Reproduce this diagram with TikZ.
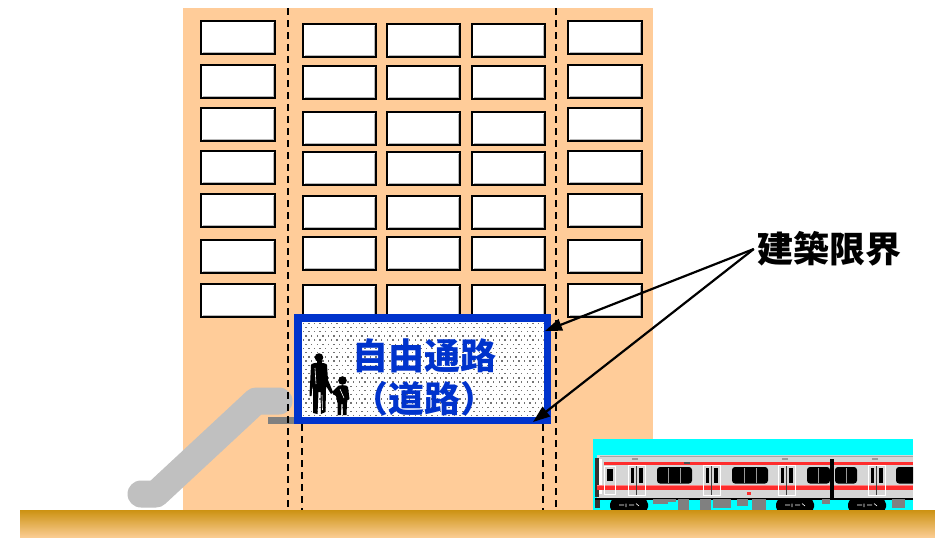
\documentclass[tikz,border=0pt]{standalone}
\usepackage{fontspec}
\newfontfamily\jpfont{Noto Sans CJK JP}
\usetikzlibrary{arrows.meta}

\definecolor{wall}{RGB}{255,204,153}
\definecolor{passblue}{RGB}{0,51,204}
\definecolor{escgray}{RGB}{192,192,192}
\definecolor{slabgray}{RGB}{128,128,128}
\definecolor{groundtop}{RGB}{204,146,18}
\definecolor{groundbot}{RGB}{252,206,150}
\definecolor{sky}{RGB}{0,255,255}
\definecolor{carbody}{RGB}{214,214,214}
\definecolor{stripe}{RGB}{255,45,45}
\definecolor{dotgray}{RGB}{115,115,115}

\tikzset{
  gauge/.style={draw=black, line width=2pt, dash pattern=on 7pt off 5pt},
  passbox/.style={draw=passblue, line width=7.5pt, inner sep=0pt,
    minimum width=249.5pt, minimum height=102.5pt},
  passtext/.style={text=passblue, inner sep=0pt,
    font=\jpfont\bfseries\fontsize{36}{36}\selectfont},
  tagtext/.style={text=black, inner sep=3pt,
    font=\jpfont\bfseries\fontsize{36}{36}\selectfont},
  callout/.style={draw=black, line width=2.2pt,
    -{Triangle[length=17pt,width=12pt]}},
  figure/.style={fill=black},
}

% one office window: white pane, grey inner shadow, black frame
\newcommand\bwin[3]{%
  \fill[white] (#1,#2) rectangle ++(#3,33);
  \draw[gray!55, line width=1pt] (#1+#3-1.5,#2+2) -- (#1+#3-1.5,#2+31.5) -- (#1+2,#2+31.5);
  \draw[black, line width=1.6pt] (#1,#2) rectangle ++(#3,33);
}

\begin{document}
\begin{tikzpicture}[x=1pt,y=-1pt]
\useasboundingbox (0,0) rectangle (935,538);
\fill[white] (0,0) rectangle (935,538);

% building
\fill[wall] (183,8) rectangle (653,510);

% windows
\foreach \y in {21,65,108,151,194,240,284} {
  \bwin{201}{\y}{74}
  \bwin{568}{\y}{74}
}
\foreach \y in {24,66,112,152,196,237,285} {
  \foreach \x in {303,387,472} { \bwin{\x}{\y}{73} }
}

% escalator and landing
\draw[escgray, line width=27pt, line cap=round, line join=round]
  (141,494) -- (156,494) -- (256,401) -- (279,401);
\fill[slabgray] (268,417) rectangle (296,424);

% clearance lines
\draw[gauge] (288,8) -- (288,510);
\draw[gauge] (556,8) -- (556,510);
\draw[gauge] (302,424) -- (302,510);
\draw[gauge] (543,424) -- (543,510);

% free passage: white floor with a staggered grey dot screen
\fill[white] (298,318) rectangle (547,420);
\begin{scope}
  \clip (301.5,321.5) rectangle (543.5,416.5);
  \foreach \j in {0,...,22} {
    \pgfmathsetmacro\dx{mod(\j,2)*2.8}
    \foreach \i in {0,...,43} {
      \fill[dotgray] (302.5+\dx+5.6*\i,322.5+4.2*\j) rectangle ++(1.5,1.5);
    }
  }
\end{scope}
\node[passbox] (pass) at (422.5,369) {};

% pedestrians: adult holding a child's hand
\begin{scope}
  \fill[figure] (319,357.5) circle (4.3);
  \fill[figure] (316.5,361) rectangle (321.5,364);
  \fill[figure] (311,365) .. controls (311,362) and (327,362) .. (327,365)
    -- (328,380) -- (333,392) -- (331,394) -- (326,386) -- (326,389)
    -- (325.5,412) -- (321,414) -- (320.5,392) -- (318.5,392)
    -- (317.5,414) -- (313,413) -- (313,389) -- (312.5,386)
    -- (311.5,396) -- (309.5,396) -- cycle;
  \draw[white, line width=0.6pt] (315,368) -- (316,384);
  \draw[white, line width=0.6pt] (322,395) -- (322.5,410);
  \fill[figure] (342.5,380.5) circle (4.3);
  \fill[figure] (337,387) .. controls (337,384.5) and (348,384.5) .. (348,387)
    -- (349.5,399) -- (347.5,400) -- (347,403) -- (346.5,415) -- (343,415)
    -- (342.5,404) -- (341.5,404) -- (341,415) -- (337.5,415) -- (337.5,403)
    -- (336,396) -- (333,394) -- (332,392) -- cycle;
  \draw[white, line width=0.6pt] (340,389) -- (344,398);
\end{scope}

\node[passtext] (t1) at (424,356) {自由通路};
\node[passtext] (t2) at (424,399) {（道路）};

% train
\begin{scope}
\clip (593,439) rectangle (913,511);
\fill[sky] (593,439) rectangle (913,511);
\fill[carbody] (597,455) rectangle (913,498);
\draw[gray!70, line width=1pt] (600,456) -- (913,456);
\fill[black!80] (595,458) rectangle (598.5,497);
\fill[white] (599,459) rectangle (601.5,494);
\fill[stripe] (604,462) rectangle (913,465);
\fill[stripe] (597,486) rectangle (913,490);
\fill[stripe!60] (597,485) rectangle (913,486);
% cab window
\draw[white, line width=1pt] (604,466) rectangle (615.5,494);
\fill[black] (607,469) rectangle (612.5,481);
% window groups
\foreach \a/\b in {657/692, 732/768, 807/830, 835/857} {
  \fill[black, rounded corners=3pt] (\a,467) rectangle (\b,483.5);
}
\fill[black, rounded corners=3pt] (896,467) rectangle (920,483.5);
\foreach \x in {668.5,680.5,744,756,818.5,846} {
  \draw[gray!80, line width=0.7pt] (\x,468) -- (\x,482.5);
}
% doors
\foreach \x in {628,703,778,868} {
  \draw[white, line width=1pt] (\x,465.5) rectangle ++(17,29.5);
  \fill[black] (\x+2.5,468) rectangle ++(3.5,14.5);
  \fill[black] (\x+11,468) rectangle ++(3.5,14.5);
  \draw[black!75, line width=0.9pt] (\x+8.5,466) -- (\x+8.5,494.5);
}
% gangway between cars
\fill[black] (830,459) rectangle (833.5,497.5);
% roof fittings
\foreach \x in {632,782,872} { \fill[gray!80] (\x,457.5) rectangle ++(6,2); }
\fill[black!70] (684,462) rectangle (690,463.5);
\fill[stripe] (747,492) rectangle (750.5,495);
% underfloor equipment
\fill[black] (595,498) rectangle (913,500);
\fill[black!80] (595,500) rectangle (600,508);
\foreach \a/\b/\c in {653/668/504, 668/676/502, 678/689/510, 700/711/510, 713/731/508,
                      737/748/506, 752/766/510, 822/830/504, 892/905/508} {
  \fill[gray] (\a,499) rectangle (\b,\c);
}
\foreach \a in {610,776,848} {
  \fill[black, rounded corners=5pt] (\a,499) rectangle ++(38,13);
  \draw[white, line width=0.6pt] (\a+9,505) -- (\a+14,505) (\a+16,503.5) -- (\a+16,507)
    (\a+19,505) -- (\a+24,505) (\a+26,503.5) -- (\a+29,506);
}
\end{scope}

% ground
\shade[top color=groundtop, bottom color=groundbot] (20,510) rectangle (935,538);

% building clearance label
\node[tagtext] (lbl) at (829,249) {建築限界};
\coordinate (tipA) at (545,331);
\coordinate (tipB) at (533,422);
\draw[callout] (lbl.west) -- (tipA);
\draw[callout] (lbl.west) -- (tipB);
\end{tikzpicture}
\end{document}
